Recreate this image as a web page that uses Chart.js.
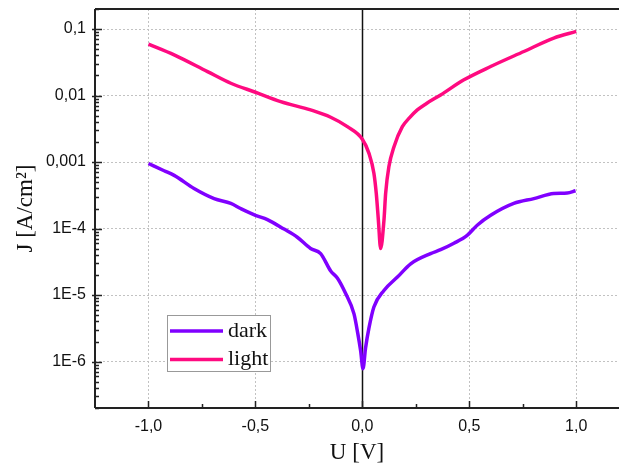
<!DOCTYPE html>
<html>
<head>
<meta charset="utf-8">
<script src="https://cdn.jsdelivr.net/npm/chart.js@4/dist/chart.umd.min.js"></script>
<style>
html,body{margin:0;padding:0;background:#fff;overflow:hidden;}
#c{display:block;}
</style>
</head>
<body>
<canvas id="c" width="619" height="467"></canvas>
<script>
// ---- data ----
const uDark = [-1.0,-0.927,-0.88,-0.787,-0.693,-0.615,-0.569,-0.5,-0.444,-0.366,-0.304,-0.242,-0.195,-0.148,-0.117,-0.078,-0.039,-0.021,-0.008,0.003,0.015,0.031,0.054,0.101,0.164,0.226,0.319,0.366,0.428,0.49,0.537,0.6,0.708,0.802,0.895,0.958,0.997];
const jDark = [9.5e-4,7.4e-4,6.3e-4,4.0e-4,2.82e-4,2.38e-4,2.0e-4,1.58e-4,1.36e-4,9.8e-5,7.4e-5,5.0e-5,4.2e-5,2.3e-5,1.8e-5,1.05e-5,5.2e-6,2.6e-6,1.45e-6,7.8e-7,1.6e-6,3.2e-6,6.6e-6,1.17e-5,1.86e-5,2.95e-5,4.2e-5,4.8e-5,6.0e-5,7.9e-5,1.12e-4,1.58e-4,2.38e-4,2.82e-4,3.36e-4,3.43e-4,3.7e-4];
const uLight = [-1.0,-0.88,-0.724,-0.615,-0.5,-0.382,-0.242,-0.148,-0.07,0.0,0.031,0.054,0.065,0.075,0.0855,0.101,0.109,0.124,0.148,0.187,0.22,0.257,0.3,0.366,0.475,0.6,0.755,0.895,1.0];
const jLight = [0.0594,0.0409,0.0229,0.0153,0.0112,0.0081,0.00607,0.00471,0.0034,0.0022,0.00135,6.8e-4,3.4e-4,1.33e-4,5.0e-5,1.33e-4,3.4e-4,8.5e-4,0.0017,0.0034,0.0046,0.00607,0.0076,0.0102,0.0172,0.0273,0.0459,0.0731,0.092];
const seriesNames = ['dark','light'];
const seriesColors = ['#8000ff','#ff0a80'];
const xTickValues = [-1.0,-0.5,0.0,0.5,1.0];
const xTickLabels = ['-1,0','-0,5','0,0','0,5','1,0'];
const xMinorTicks = [-0.75,-0.25,0.25,0.75];
const yTickValues = [1e-6,1e-5,1e-4,1e-3,1e-2,1e-1];
const yTickLabels = ['1E-6','1E-5','1E-4','0,001','0,01','0,1'];
const xTitle = 'U [V]';
const yTitle = 'J [A/cm\u00B2]';

const toPts = (u, j) => u.map((v, i) => ({x: v, y: j[i]}));

const framePlugin = {
  id: 'frame',
  beforeDatasetsDraw(chart) {
    const {ctx, chartArea: a, scales: {x}} = chart;
    const x0 = Math.round(x.getPixelForValue(0)) + 0.5;
    ctx.save();
    ctx.strokeStyle = '#111';
    ctx.lineWidth = 1.5;
    ctx.beginPath();
    ctx.moveTo(x0, a.top);
    ctx.lineTo(x0, a.bottom);
    ctx.stroke();
    ctx.restore();
  },
  afterDatasetsDraw(chart) {
    const {ctx, chartArea: a, scales: {x, y}} = chart;
    ctx.save();
    ctx.strokeStyle = '#222';
    ctx.lineWidth = 2;
    ctx.beginPath();
    ctx.moveTo(a.left, a.top); ctx.lineTo(a.right, a.top);
    ctx.moveTo(a.left, a.top); ctx.lineTo(a.left, a.bottom);
    ctx.moveTo(a.left, a.bottom); ctx.lineTo(a.right, a.bottom);
    ctx.stroke();
    // y ticks (inward)
    ctx.lineWidth = 1.5;
    ctx.beginPath();
    for (let e = -7; e <= 0; e++) {
      for (let m = 1; m <= 9; m++) {
        const v = m * Math.pow(10, e);
        if (v < y.min * 0.999 || v > y.max * 1.001) continue;
        const py = Math.round(y.getPixelForValue(v)) + 0.5;
        const len = m === 1 ? 7 : 4;
        ctx.moveTo(a.left - (m === 1 ? 3 : 0), py);
        ctx.lineTo(a.left + len, py);
      }
    }
    // x ticks (inward)
    xTickValues.forEach(v => {
      const px = Math.round(x.getPixelForValue(v)) + 0.5;
      ctx.moveTo(px, a.bottom); ctx.lineTo(px, a.bottom - 7);
    });
    xMinorTicks.forEach(v => {
      const px = Math.round(x.getPixelForValue(v)) + 0.5;
      ctx.moveTo(px, a.bottom); ctx.lineTo(px, a.bottom - 4);
    });
    ctx.stroke();
    ctx.restore();
  },
  afterDraw(chart) {
    const {ctx} = chart;
    const bx = 167.5, by = 315.5, bw = 103, bh = 56;
    ctx.save();
    ctx.fillStyle = '#fff';
    ctx.fillRect(bx, by, bw, bh);
    ctx.strokeStyle = '#999';
    ctx.lineWidth = 1;
    ctx.strokeRect(bx, by, bw, bh);
    chart.data.datasets.forEach((ds, i) => {
      const ly = 331 + i * 28.5;
      ctx.strokeStyle = ds.borderColor;
      ctx.lineWidth = 3.5;
      ctx.beginPath();
      ctx.moveTo(170, ly); ctx.lineTo(223, ly);
      ctx.stroke();
      ctx.fillStyle = '#111';
      ctx.font = '22px "Liberation Serif", "Times New Roman", serif';
      ctx.textBaseline = 'middle';
      ctx.textAlign = 'left';
      ctx.fillText(ds.label, 228, ly);
    });
    ctx.restore();
  }
};

new Chart(document.getElementById('c'), {
  type: 'line',
  data: {
    datasets: [
      {label: seriesNames[0], data: toPts(uDark, jDark), borderColor: seriesColors[0], borderWidth: 3.5, pointRadius: 0, cubicInterpolationMode: 'monotone', fill: false},
      {label: seriesNames[1], data: toPts(uLight, jLight), borderColor: seriesColors[1], borderWidth: 3.5, pointRadius: 0, cubicInterpolationMode: 'monotone', fill: false}
    ]
  },
  options: {
    responsive: false,
    animation: false,
    devicePixelRatio: 1,
    layout: {padding: {top: 9, left: 0, right: 0, bottom: 0}},
    plugins: {legend: {display: false}, tooltip: {enabled: false}},
    scales: {
      x: {
        type: 'linear',
        min: -1.25,
        max: 1.2,
        afterBuildTicks: s => { s.ticks = xTickValues.map(v => ({value: v})); },
        afterFit: s => { s.height = 59; s.paddingLeft = 0; s.paddingRight = 0; },
        ticks: {
          callback: (v, i) => xTickLabels[i],
          font: {family: '"Liberation Sans", Arial, sans-serif', size: 16},
          color: '#111',
          padding: 9,
          maxRotation: 0,
          autoSkip: false
        },
        grid: {color: '#c2c2c2', lineWidth: 1, drawTicks: false},
        border: {display: false, dash: [2, 2]},
        title: {display: true, text: xTitle, font: {family: '"Liberation Serif", "Times New Roman", serif', size: 23}, color: '#111', padding: {top: -2, bottom: 0}}
      },
      y: {
        type: 'logarithmic',
        min: 2e-7,
        max: 0.2,
        afterBuildTicks: s => { s.ticks = yTickValues.map(v => ({value: v})); },
        afterFit: s => { s.width = 95; s.paddingTop = 0; s.paddingBottom = 0; },
        ticks: {
          callback: (v, i) => yTickLabels[i],
          font: {family: '"Liberation Sans", Arial, sans-serif', size: 16},
          color: '#111',
          padding: 9,
          autoSkip: false
        },
        grid: {color: '#c2c2c2', lineWidth: 1, drawTicks: false},
        border: {display: false, dash: [2, 2]},
        title: {display: true, text: yTitle, font: {family: '"Liberation Serif", "Times New Roman", serif', size: 23}, color: '#111', padding: {top: 12, bottom: 0}}
      }
    }
  },
  plugins: [framePlugin]
});
</script>
</body>
</html>
